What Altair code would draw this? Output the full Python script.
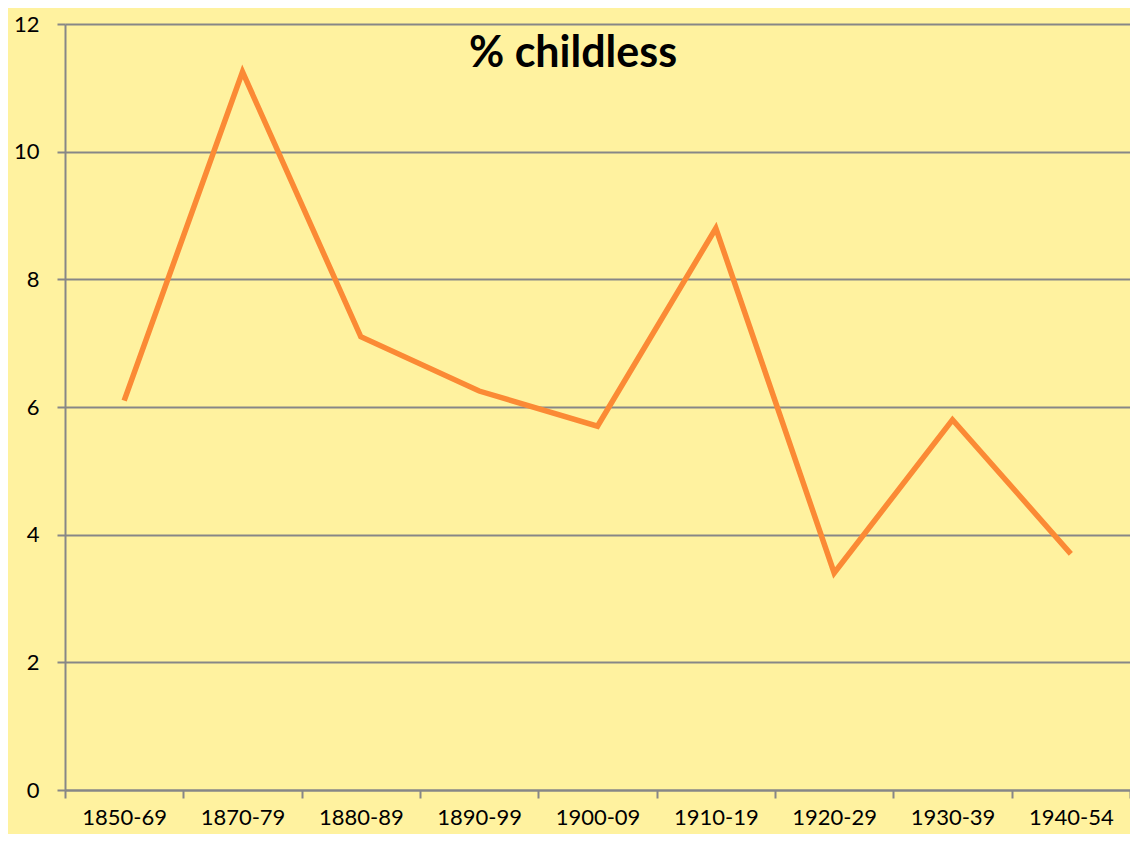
import altair as alt
import pandas as pd

periods = ["1850-69", "1870-79", "1880-89", "1890-99", "1900-09",
           "1910-19", "1920-29", "1930-39", "1940-54"]
childless = [6.1, 11.25, 7.1, 6.25, 5.7, 8.8, 3.4, 5.8, 3.7]
title_text = ["% childless"]

df = pd.DataFrame({"period": periods, "pct": childless})
tdf = pd.DataFrame({"t": title_text})

FONT = "Lato"
GRID = "#878787"
BG = "#FFF29F"

line = alt.Chart(df).mark_line(
    color="#FB8A35", strokeWidth=5.5, strokeJoin="miter", strokeCap="butt"
).encode(
    x=alt.X("period:N", sort=periods, title=None,
            scale=alt.Scale(paddingInner=0, paddingOuter=0),
            axis=alt.Axis(labelAngle=0, labelFontSize=22, labelFont=FONT,
                          labelColor="black", labelPadding=9,
                          tickBand="extent", tickSize=8, tickColor=GRID,
                          domainColor=GRID, domainWidth=2, tickWidth=2,
                          grid=False)),
    y=alt.Y("pct:Q", title=None,
            scale=alt.Scale(domain=[0, 12], nice=False),
            axis=alt.Axis(values=[0, 2, 4, 6, 8, 10, 12], labelFontSize=22,
                          labelFont=FONT, labelColor="black", labelPadding=18,
                          tickSize=8, tickColor=GRID, tickWidth=2,
                          domainColor=GRID, domainWidth=2,
                          grid=True, gridColor=GRID, gridWidth=2)),
)

title = alt.Chart(tdf).mark_text(
    font=FONT, fontSize=43, fontWeight="bold", color="black",
    align="center", baseline="alphabetic"
).encode(
    text="t:N",
    x=alt.value(508),
    y=alt.value(43),
)

chart = alt.layer(line, title).properties(
    width=1065,
    height=766,
    background=BG,
    autosize=alt.AutoSizeParams(type="none"),
    padding={"left": 57, "top": 16, "right": 0, "bottom": 44},
).configure_view(
    stroke=None, fill=BG
)

chart.save("out.html", embed_options={"renderer": "svg", "actions": False})
